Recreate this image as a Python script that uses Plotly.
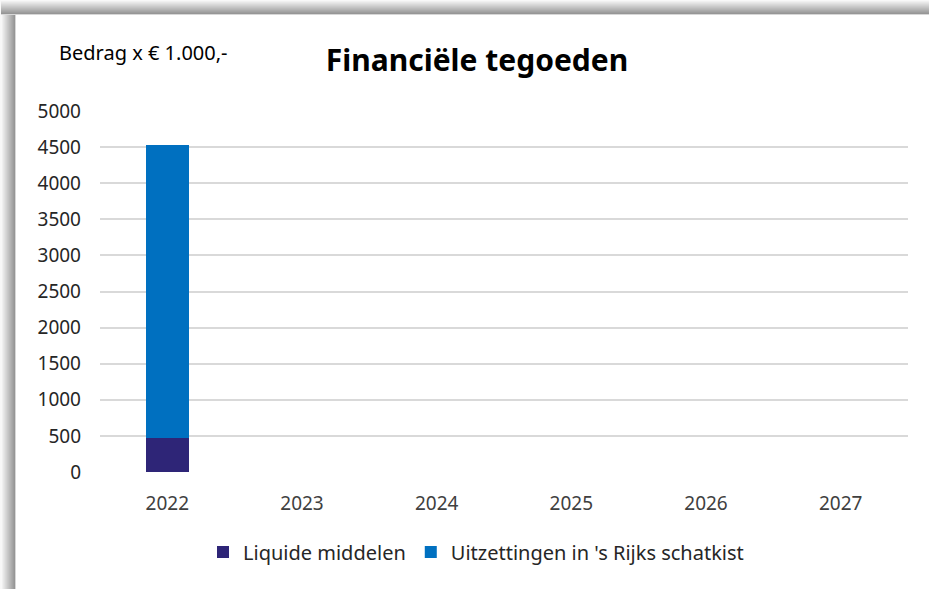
import plotly.graph_objects as go

years = ["2022", "2023", "2024", "2025", "2026", "2027"]
liquide = [465, None, None, None, None, None]
uitzettingen = [4060, None, None, None, None, None]
series_names = ["Liquide middelen", "Uitzettingen in 's Rijks schatkist"]
colors = ["#2e2577", "#0070c0"]

W, H = 929, 589
L, R, T, B = 100, 21, 111, 117
pw, ph = W - L - R, H - T - B

def px(x):
    return (x - L) / pw

def py(y):
    return (H - B - y) / ph

FONT = "Noto Sans"

fig = go.Figure()
fig.add_bar(x=years, y=liquide, name=series_names[0], marker_color=colors[0], marker_line_width=0)
fig.add_bar(x=years, y=uitzettingen, name=series_names[1], marker_color=colors[1], marker_line_width=0)

shapes = []
def shade(t):
    v = int(248 - (248 - 150) * t)
    return f"rgb({v},{v},{v})"

n = 14
for i in range(n):
    c = shade(i / (n - 1))
    shapes.append(dict(type="rect", xref="paper", yref="paper",
                       x0=px(0), x1=px(W), y0=py(i), y1=py(i + 1),
                       fillcolor=c, line_width=0, layer="above"))
    shapes.append(dict(type="rect", xref="paper", yref="paper",
                       x0=px(i + 1), x1=px(i + 2), y0=py(i), y1=py(H),
                       fillcolor=c, line_width=0, layer="above"))
shapes.append(dict(type="rect", xref="paper", yref="paper",
                   x0=px(0), x1=px(W), y0=py(n), y1=py(n + 1),
                   fillcolor="rgb(215,215,215)", line_width=0, layer="above"))
shapes.append(dict(type="rect", xref="paper", yref="paper",
                   x0=px(n + 1), x1=px(n + 2), y0=py(n), y1=py(H),
                   fillcolor="rgb(215,215,215)", line_width=0, layer="above"))
shapes.append(dict(type="rect", xref="paper", yref="paper",
                   x0=px(0), x1=px(1), y0=py(0), y1=py(H),
                   fillcolor="rgb(248,248,248)", line_width=0, layer="above"))

fig.update_layout(
    width=W, height=H,
    margin=dict(l=L, r=R, t=T, b=B, autoexpand=False),
    barmode="stack",
    bargap=0.68,
    plot_bgcolor="white", paper_bgcolor="white",
    font=dict(family=FONT, color="#262626", size=19),
    title=dict(text="<b>Financiële tegoeden</b>", x=477 / W, xanchor="center",
               y=1 - 60 / H, yanchor="middle",
               font=dict(family=FONT, size=30, color="black")),
    annotations=[dict(text="Bedrag x € 1.000,-", xref="paper", yref="paper",
                      x=px(57), y=py(52), xanchor="left", yanchor="middle",
                      showarrow=False, font=dict(family=FONT, size=20, color="black"))],
    xaxis=dict(showgrid=False, showline=False, ticks="", zeroline=False,
               tickfont=dict(size=19, color="#404040"), ticklabelstandoff=18),
    yaxis=dict(range=[0, 5000], dtick=500, showgrid=True, gridcolor="#d9d9d9",
               gridwidth=2, zeroline=False, showline=False, ticks="",
               tickfont=dict(size=19, color="#262626"), ticklabelstandoff=18),
    legend=dict(orientation="h", x=px(203), xanchor="left", y=py(552), yanchor="middle",
                font=dict(size=20, color="#262626"), itemwidth=30,
                traceorder="normal", itemsizing="constant"),
    shapes=shapes,
)

fig.write_html("out.html", config={"displayModeBar": False},
               post_script="document.body.style.margin='0';document.body.style.overflow='hidden';")
